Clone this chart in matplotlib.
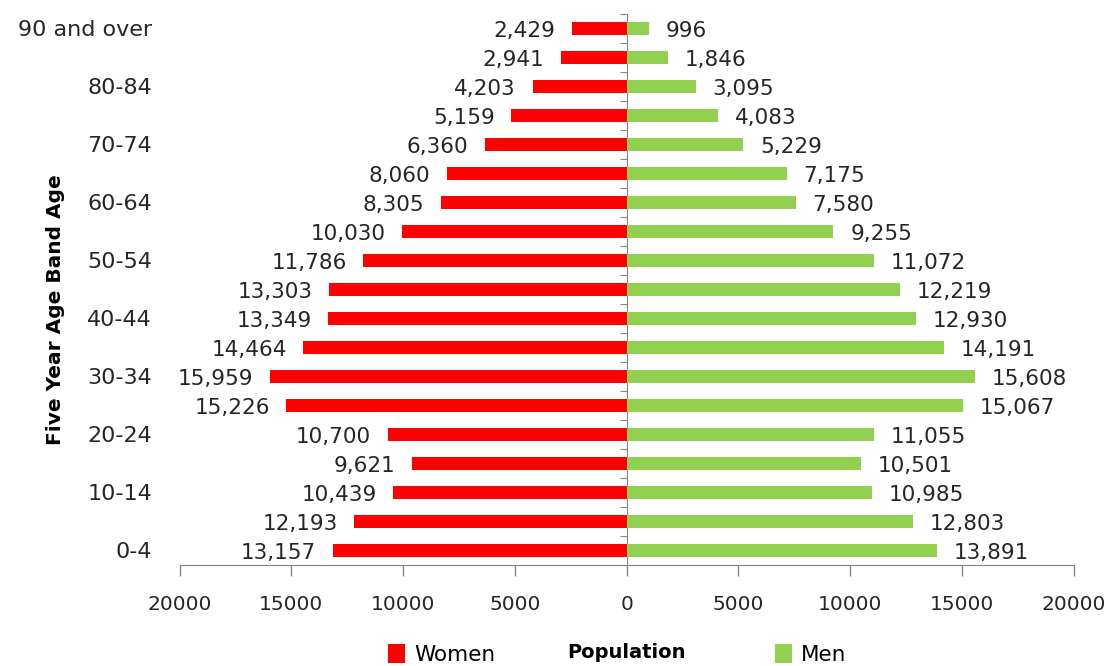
import matplotlib.pyplot as plt
import numpy as np
from matplotlib.ticker import FuncFormatter

# age bands, bottom to top
age_bands = ["0-4", "5-9", "10-14", "15-19", "20-24", "25-29", "30-34", "35-39",
             "40-44", "45-49", "50-54", "55-59", "60-64", "65-69", "70-74",
             "75-79", "80-84", "85-89", "90 and over"]
women = [13157, 12193, 10439, 9621, 10700, 15226, 15959, 14464, 13349, 13303,
         11786, 10030, 8305, 8060, 6360, 5159, 4203, 2941, 2429]
men = [13891, 12803, 10985, 10501, 11055, 15067, 15608, 14191, 12930, 12219,
       11072, 9255, 7580, 7175, 5229, 4083, 3095, 1846, 996]
x_ticks = [-20000, -15000, -10000, -5000, 0, 5000, 10000, 15000, 20000]

RED = "#FF0000"
GREEN = "#92D050"
GREY = "#868686"

fig = plt.figure(figsize=(11.16, 6.66), dpi=100)
ax = fig.add_axes([0.161, 0.152, 0.801, 0.827])

y = np.arange(len(age_bands))
ax.barh(y, -np.array(women), height=0.45, color=RED, label="Women")
ax.barh(y, men, height=0.45, color=GREEN, label="Men")

# value labels
for yi, w, m in zip(y, women, men):
    ax.annotate(f"{w:,}", (-w, yi), xytext=(-12, -2), textcoords="offset points",
                ha="right", va="center", fontsize=15.5, color="#262626")
    ax.annotate(f"{m:,}", (m, yi), xytext=(12, -2), textcoords="offset points",
                ha="left", va="center", fontsize=15.5, color="#262626")

ax.set_xlim(-20000, 20000)
ax.set_ylim(-0.5, len(age_bands) - 0.5)

# x axis
ax.set_xticks(x_ticks)
ax.xaxis.set_major_formatter(FuncFormatter(lambda v, p: f"{abs(int(v))}"))
ax.tick_params(axis="x", direction="out", length=8, width=1, color=GREY,
               labelsize=14.5, pad=14, labelcolor="#262626")

# y axis labels every other band, no tick marks
ax.set_yticks(y)
ax.set_yticklabels([b if i % 2 == 0 else "" for i, b in enumerate(age_bands)])
ax.tick_params(axis="y", length=0, labelsize=16, pad=20, labelcolor="#262626")

for s in ["top", "right", "left"]:
    ax.spines[s].set_visible(False)
ax.spines["bottom"].set_color(GREY)

# centre axis line with tick marks between bands
sec = ax.secondary_yaxis(0.5)
sec.set_alignment("left")
sec.set_yticks(np.arange(-0.5, len(age_bands), 1))
sec.set_yticklabels([])
sec.tick_params(direction="out", length=5, color=GREY)
sec.spines["left"].set_color(GREY)

ax.set_ylabel("Five Year Age Band Age", fontsize=14.5, fontweight="bold")
ax.yaxis.set_label_coords(-0.128, 0.463)
ax.set_xlabel("Population", fontsize=14, fontweight="bold")
ax.xaxis.set_label_coords(0.5, -0.142)
ax.xaxis.label.set_va("top")

fig.legend(loc="center", bbox_to_anchor=(0.553, 0.018), ncol=2, frameon=False,
           fontsize=15.5, handlelength=0.8, handleheight=1.0, handletextpad=0.4,
           columnspacing=13)

fig.savefig("out.png", dpi=100)
